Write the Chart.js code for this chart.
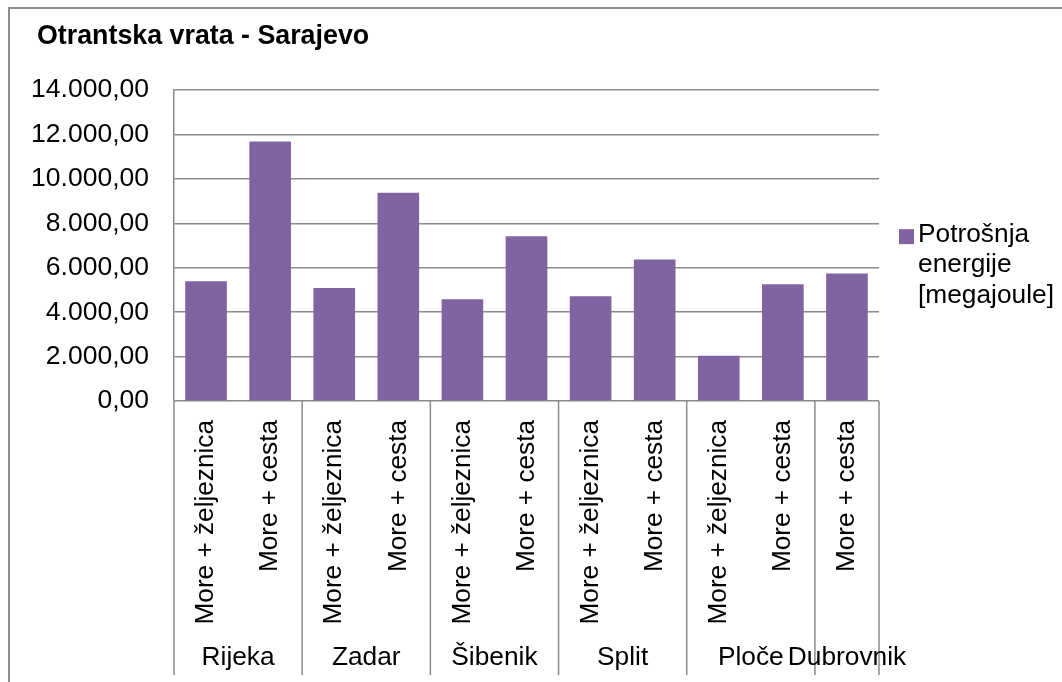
<!DOCTYPE html>
<html>
<head>
<meta charset="utf-8">
<script src="https://cdn.jsdelivr.net/npm/chart.js@4.4.1/dist/chart.umd.min.js"></script>
<style>
  html, body { margin: 0; padding: 0; background: #fff; overflow: hidden; }
  #wrap { position: relative; width: 1062px; height: 682px; overflow: hidden; }
  #frame { position: absolute; left: 8px; top: 7px; width: 1200px; height: 800px; border: 2px solid #8e8e8e; }
  #chart { position: absolute; left: 0; top: 0; }
</style>
</head>
<body>
<div id="wrap">
  <div id="frame"></div>
  <canvas id="chart" width="1062" height="682"></canvas>
</div>
<script>
// kategorije (donja razina) i grupe (luke)
const categories = [
  "More + željeznica", "More + cesta",
  "More + željeznica", "More + cesta",
  "More + željeznica", "More + cesta",
  "More + željeznica", "More + cesta",
  "More + željeznica", "More + cesta",
  "More + cesta"
];
const groups = ["Rijeka", "Zadar", "Šibenik", "Split", "Ploče", "Dubrovnik"];
const groupSizes = [2, 2, 2, 2, 2, 1];

// Potrošnja energije [megajoule]
const energy = [5390, 11690, 5090, 9380, 4580, 7420, 4720, 6370, 2040, 5260, 5740];
const seriesLabel = ["Potrošnja", "energije", "[megajoule]"];

const yTicks = { min: 0, max: 14000, step: 2000 };

const BAR = "#8064a2";
const GRID = "#8a8a8a";
const FAMILY = "'Liberation Sans', Arial, sans-serif";

function formatHr(v) {
  const s = Math.round(v).toString().replace(/\B(?=(\d{3})+(?!\d))/g, ".");
  return s + ",00";
}

/* naslov malo udesno od lijevog ruba osi */
const titleShift = {
  id: "titleShift",
  afterLayout(chart) {
    const t = chart.titleBlock;
    if (t) t.left = chart.chartArea.left - 137;
  }
};

/* druga razina x osi: crte i nazivi luka */
const groupAxis = {
  id: "groupAxis",
  afterDraw(chart) {
    const ctx = chart.ctx;
    const x = chart.scales.x;
    const area = chart.chartArea;
    const slot = x.getPixelForValue(1) - x.getPixelForValue(0);
    const y0 = area.bottom;
    const y1 = area.bottom + 274;

    ctx.save();
    ctx.strokeStyle = GRID;
    ctx.lineWidth = 1.5;
    ctx.fillStyle = "#000";
    ctx.font = "26.3px " + FAMILY;
    ctx.textAlign = "center";
    ctx.textBaseline = "middle";

    const vline = (px) => {
      ctx.beginPath();
      ctx.moveTo(px, y0);
      ctx.lineTo(px, y1);
      ctx.stroke();
    };

    let start = 0;
    groups.forEach((name, g) => {
      const left = x.getPixelForValue(start) - slot / 2;
      const right = x.getPixelForValue(start + groupSizes[g] - 1) + slot / 2;
      vline(left);
      if (g === groups.length - 1) vline(right);
      ctx.fillText(name, (left + right) / 2, area.bottom + 257);
      start += groupSizes[g];
    });
    ctx.restore();
  }
};

/* legenda desno, u tri retka */
const sideLegend = {
  id: "sideLegend",
  afterDraw(chart) {
    const ctx = chart.ctx;
    const area = chart.chartArea;
    const bx = area.right + 20;
    const by = area.top + 139;
    ctx.save();
    ctx.fillStyle = BAR;
    ctx.fillRect(bx, by, 15, 15);
    ctx.fillStyle = "#000";
    ctx.font = "26.3px " + FAMILY;
    ctx.textAlign = "left";
    ctx.textBaseline = "alphabetic";
    seriesLabel.forEach((t, i) => {
      ctx.fillText(t, bx + 19, area.top + 152 + i * 30.3);
    });
    ctx.restore();
  }
};

new Chart(document.getElementById("chart"), {
  type: "bar",
  data: {
    labels: categories,
    datasets: [{
      label: seriesLabel.join(" "),
      data: energy,
      backgroundColor: BAR,
      borderWidth: 0,
      barPercentage: 0.65,
      categoryPercentage: 1
    }]
  },
  options: {
    responsive: false,
    animation: false,
    layout: { padding: { left: 28, right: 183, top: 0, bottom: 51 } },
    plugins: {
      legend: { display: false },
      tooltip: { enabled: false },
      title: {
        display: true,
        text: "Otrantska vrata - Sarajevo",
        align: "start",
        color: "#000",
        font: { family: FAMILY, size: 26.8, weight: "bold" },
        padding: { top: 21, bottom: 37 }
      }
    },
    scales: {
      x: {
        grid: { display: false, drawTicks: false },
        border: { display: false },
        ticks: {
          color: "#000",
          font: { family: FAMILY, size: 26.2 },
          minRotation: 90,
          maxRotation: 90,
          autoSkip: false,
          padding: 19
        },
        afterFit(scale) { scale.height = 230; }
      },
      y: {
        min: yTicks.min,
        max: yTicks.max,
        grid: { color: GRID, lineWidth: 1.5, drawTicks: false },
        border: { color: GRID, width: 1.5 },
        ticks: {
          stepSize: yTicks.step,
          color: "#000",
          font: { family: FAMILY, size: 26.5 },
          padding: 25,
          callback: (v) => formatHr(v)
        },
        afterFit(scale) { scale.width = 146; }
      }
    }
  },
  plugins: [titleShift, groupAxis, sideLegend]
});
</script>
</body>
</html>
